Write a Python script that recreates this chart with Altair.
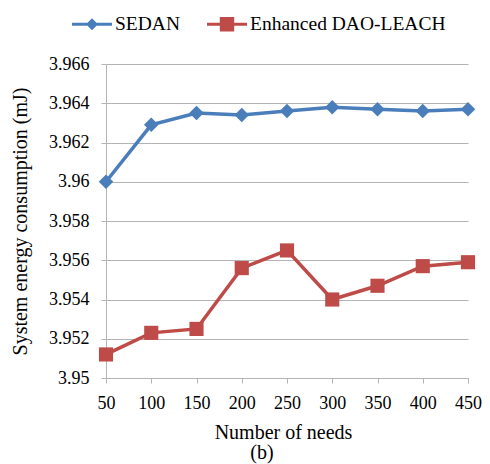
import altair as alt
import pandas as pd

needs = [50, 100, 150, 200, 250, 300, 350, 400, 450]
sedan = [3.9600, 3.9629, 3.9635, 3.9634, 3.9636, 3.9638, 3.9637, 3.9636, 3.9637]
dao_leach = [3.9512, 3.9523, 3.9525, 3.9556, 3.9565, 3.9540, 3.9547, 3.9557, 3.9559]
series_names = ["SEDAN", "Enhanced DAO-LEACH"]
series_colors = ["#4a7ebb", "#be4b48"]
y_ticks = [3.950, 3.952, 3.954, 3.956, 3.958, 3.960, 3.962, 3.964, 3.966]

rows = []
for n, v in zip(needs, sedan):
    rows.append({"needs": n, "value": v, "series": series_names[0]})
for n, v in zip(needs, dao_leach):
    rows.append({"needs": n, "value": v, "series": series_names[1]})
df = pd.DataFrame(rows)

FONT = "Liberation Serif, Times New Roman, serif"
GRID = "#b4b4b4"

legend_paths = [
    "M-1,-0.08 L1,-0.08 L1,0.08 L-1,0.08 Z M0,-0.3 L0.3,0 L0,0.3 L-0.3,0 Z",
    "M-1,-0.08 L1,-0.08 L1,0.08 L-1,0.08 Z M-0.36,-0.36 L0.36,-0.36 L0.36,0.36 L-0.36,0.36 Z",
]

x_enc = alt.X(
    "needs:Q",
    scale=alt.Scale(domain=[50, 450], nice=False, zero=False),
    axis=alt.Axis(
        values=needs,
        grid=False,
        title="Number of needs",
        titleFont=FONT,
        titleFontSize=20,
        titleFontWeight="normal",
        titleX=177,
        titleY=54,
        titleBaseline="middle",
        labelFont=FONT,
        labelFontSize=18,
        labelPadding=11,
        labelFlush=False,
        labelOverlap=False,
        tickSize=5,
        tickColor=GRID,
        domainColor=GRID,
        labelColor="black",
        titleColor="black",
    ),
)
y_enc = alt.Y(
    "value:Q",
    scale=alt.Scale(domain=[3.950, 3.966], nice=False, zero=False),
    axis=alt.Axis(
        values=y_ticks,
        labelExpr="format(datum.value, '.3~f')",
        title="System energy consumption (mJ)",
        titleFont=FONT,
        titleFontSize=20,
        titleFontWeight="normal",
        titleX=-86,
        titleY=157,
        titleBaseline="middle",
        labelFont=FONT,
        labelFontSize=18,
        labelPadding=12,
        labelOverlap=False,
        tickSize=5,
        tickColor=GRID,
        domainColor=GRID,
        gridColor=GRID,
        gridWidth=1.2,
        labelColor="black",
        titleColor="black",
    ),
)
color_scale = alt.Scale(domain=series_names, range=series_colors)

base = alt.Chart(df).encode(x=x_enc, y=y_enc)
sedan_base = base.transform_filter(alt.datum.series == series_names[0])
dao_base = base.transform_filter(alt.datum.series == series_names[1])

sedan_line = sedan_base.mark_line(strokeWidth=3.5, color=series_colors[0])
dao_line = dao_base.mark_line(strokeWidth=3.5, color=series_colors[1])
diamonds = sedan_base.mark_point(
    shape="diamond", filled=True, size=210, opacity=1, color=series_colors[0]
)
squares = dao_base.mark_point(
    shape="square", filled=True, size=200, opacity=1, color=series_colors[1]
)

legend = alt.Legend(
    orient="none",
    legendX=-34,
    legendY=-60,
    direction="horizontal",
    title=None,
    symbolSize=1600,
    symbolOpacity=1,
    symbolStrokeWidth=0,
    labelFont=FONT,
    labelFontSize=19.5,
    labelColor="black",
    labelOffset=3,
    labelLimit=400,
    columnPadding=26,
    padding=0,
)
legend_layer = base.mark_point(filled=True, opacity=0).encode(
    color=alt.Color("series:N", scale=color_scale, legend=legend),
    shape=alt.Shape(
        "series:N",
        scale=alt.Scale(domain=series_names, range=legend_paths),
        legend=legend,
    ),
)

chart = (
    alt.layer(sedan_line, dao_line, diamonds, squares, legend_layer)
    .properties(
        width=362,
        height=314,
        padding={"left": 98, "top": 56, "right": 14, "bottom": 86},
        autosize=alt.AutoSizeParams(type="none"),
        title=alt.TitleParams(
            text="(b)",
            orient="bottom",
            anchor="middle",
            fontSize=20,
            fontWeight="normal",
            font=FONT,
            color="black",
            dx=-25,
            offset=1,
        ),
    )
    .configure(font=FONT, background="white")
    .configure_view(stroke=None)
)

chart.save("out.html", embed_options={"renderer": "svg", "actions": False})
